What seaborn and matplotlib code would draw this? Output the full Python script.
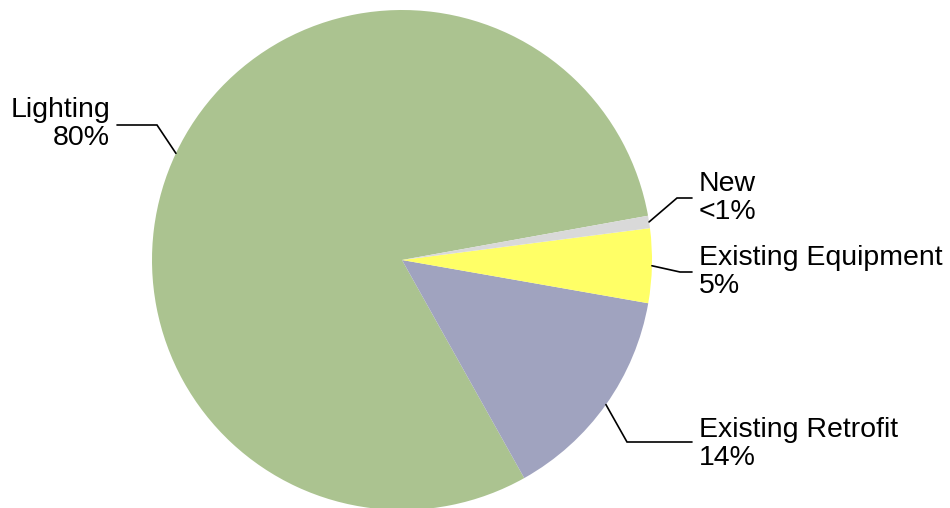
import numpy as np
import matplotlib
matplotlib.use("Agg")
import matplotlib.pyplot as plt
import seaborn as sns

# data
categories = ["Lighting", "Existing Retrofit", "Existing Equipment", "New"]
shares = [80.3, 14.1, 4.8, 0.8]
colors = ["#abc390", "#a0a3bf", "#ffff66", "#d9d9d9"]

sns.set_theme(style="white")
plt.rcParams["font.family"] = ["Liberation Sans", "DejaVu Sans"]

fig = plt.figure(figsize=(9.5, 5.08), dpi=100)
ax = fig.add_axes([0, 0, 1, 1])

wedges, _ = ax.pie(shares, colors=colors, startangle=10.2, counterclock=True,
                   radius=1.0, wedgeprops=dict(linewidth=0))

ax.set_xlim(-402 / 250, (950 - 402) / 250)
ax.set_ylim(-(508 - 260) / 250, 260 / 250)
ax.set_aspect("equal")
ax.axis("off")


def pct_text(v):
    return "<1%" if v < 1 else f"{round(v)}%"


# elbow point, end of horizontal, text anchor, alignment
layout = {
    "Lighting": ((-0.98, 0.54), -1.14, (-1.168, 0.544), "right"),
    "Existing Retrofit": ((0.90, -0.728), 1.16, (1.188, -0.736), "left"),
    "Existing Equipment": ((1.112, -0.048), 1.16, (1.188, -0.048), "left"),
    "New": ((1.10, 0.248), 1.16, (1.188, 0.248), "left"),
}

for w, name, val in zip(wedges, categories, shares):
    mid = np.deg2rad((w.theta1 + w.theta2) / 2)
    x0, y0 = np.cos(mid), np.sin(mid)
    (ex, ey), hx, (tx, ty), ha = layout[name]
    ax.plot([x0, ex, hx], [y0, ey, ey], color="black", lw=1.2, solid_joinstyle="miter")
    ax.text(tx, ty, f"{name}\n{pct_text(val)}", ha=ha, va="center",
            multialignment=ha, fontsize=20.5, linespacing=1.07, color="black")

fig.savefig("out.png", dpi=100)
